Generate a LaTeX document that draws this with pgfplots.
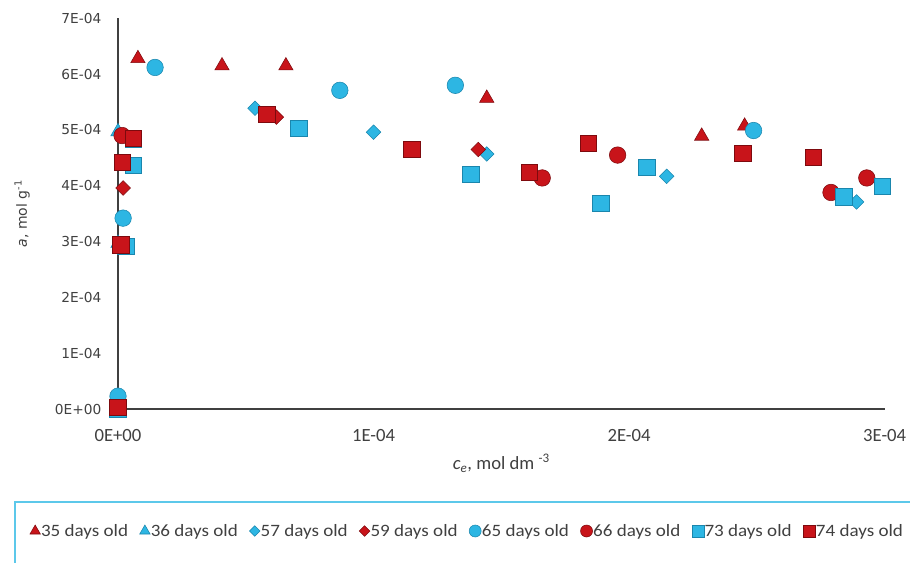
\documentclass[border=0pt]{standalone}
\usepackage{pgfplots}
\pgfplotsset{compat=1.18}
\usepackage{fontspec}
\setmainfont{Carlito}
\newfontfamily\djv{DejaVu Sans}
\newfontfamily\legfont[FakeStretch=1.1]{Carlito}

\definecolor{myred}{HTML}{C8141A}
\definecolor{myreddark}{HTML}{7E0A0E}
\definecolor{myblue}{HTML}{2DB6E3}
\definecolor{mybluedark}{HTML}{1A86AD}
\definecolor{axisgray}{HTML}{404040}
\definecolor{boxblue}{HTML}{5CC8EA}

% diamond with equal diagonals
\pgfdeclareplotmark{sqdiamond*}{%
  \pgfpathmoveto{\pgfqpoint{0pt}{0.88\pgfplotmarksize}}%
  \pgfpathlineto{\pgfqpoint{0.88\pgfplotmarksize}{0pt}}%
  \pgfpathlineto{\pgfqpoint{0pt}{-0.88\pgfplotmarksize}}%
  \pgfpathlineto{\pgfqpoint{-0.88\pgfplotmarksize}{0pt}}%
  \pgfpathclose
  \pgfusepathqfillstroke}

\pgfplotsset{
  redmk/.style={only marks, mark options={fill=myred, draw=myreddark, line width=0.4pt}},
  bluemk/.style={only marks, mark options={fill=myblue, draw=mybluedark, line width=0.4pt}},
}

\begin{document}
\begin{tikzpicture}
\begin{axis}[
  at={(0,0)}, anchor=south west,
  scale only axis, width=575pt, height=293pt,
  xmin=0, xmax=3e-4, ymin=0, ymax=7e-4,
  clip=false,
  axis x line=bottom, axis y line=left,
  axis line style={-, axisgray, line width=0.8pt},
  major tick length=0pt,
  scaled ticks=false,
  xtick={0,1e-4,2e-4,3e-4},
  xticklabels={0E+00,1E-04,2E-04,3E-04},
  ytick={0,1e-4,2e-4,3e-4,4e-4,5e-4,6e-4,7e-4},
  yticklabels={0E+00,1E-04,2E-04,3E-04,4E-04,5E-04,6E-04,7E-04},
  xticklabel style={font=\fontsize{14}{16}\selectfont, text=axisgray, yshift=-12pt},
  yticklabel style={font=\djv\fontsize{10.3}{12}\selectfont, text=axisgray, xshift=-9pt},
  xlabel={\textit{c}\textsubscript{\textit{e}}, mol dm \textsuperscript{-3}},
  ylabel={\textit{a}, mol g\textsuperscript{-1}},
  xlabel style={font=\fontsize{14}{16}\selectfont, text=axisgray, at={(axis description cs:0.5,-0.14)}, anchor=center},
  ylabel style={font=\djv\fontsize{10.5}{12}\selectfont, text=axisgray, at={(axis description cs:-0.125,0.5)}, anchor=center},
  mark size=6.2pt,
  legend columns=8,
  legend style={draw=none, fill=none, inner sep=0pt, outer sep=0pt,
    at={(axis description cs:-0.1148,-0.3123)}, anchor=west,
    font=\legfont\fontsize{13}{15}\selectfont,
    nodes={inner sep=0.5pt, text=axisgray},
    /tikz/every even column/.append style={column sep=7.5pt}},
  legend image code/.code={\draw[#1, mark size=4.5pt] plot coordinates {(0pt,0pt)};},
]
% 35 days old
\addplot[redmk, mark=triangle*] coordinates {
  (0,0) (0.078e-4,6.28e-4) (0.407e-4,6.15e-4) (0.657e-4,6.15e-4)
  (1.443e-4,5.57e-4) (2.284e-4,4.89e-4) (2.452e-4,5.07e-4)};
\addlegendentry{\makebox[66pt][l]{35 days old}}
% 36 days old
\addplot[bluemk, mark=triangle*] coordinates {
  (0,0.05e-4) (0,2.97e-4) (0,4.97e-4)};
\addlegendentry{\makebox[66pt][l]{36 days old}}
% 57 days old
\addplot[bluemk, mark=sqdiamond*] coordinates {
  (0,0) (0.536e-4,5.39e-4) (1.0e-4,4.96e-4) (1.443e-4,4.57e-4)
  (2.147e-4,4.17e-4) (2.89e-4,3.71e-4)};
\addlegendentry{\makebox[66pt][l]{57 days old}}
% 59 days old
\addplot[redmk, mark=sqdiamond*] coordinates {
  (0,0) (0.02e-4,3.96e-4) (0.62e-4,5.23e-4) (1.41e-4,4.65e-4)};
\addlegendentry{\makebox[66pt][l]{59 days old}}
% 65 days old
\addplot[bluemk, mark=*] coordinates {
  (0,0.23e-4) (0.02e-4,3.42e-4) (0.145e-4,6.12e-4) (0.868e-4,5.71e-4)
  (1.32e-4,5.80e-4) (2.487e-4,4.99e-4)};
\addlegendentry{\makebox[66pt][l]{65 days old}}
% 66 days old
\addplot[redmk, mark=*] coordinates {
  (0,0) (0.016e-4,4.90e-4) (1.66e-4,4.14e-4) (1.955e-4,4.55e-4)
  (2.79e-4,3.88e-4) (2.93e-4,4.14e-4)};
\addlegendentry{\makebox[66pt][l]{66 days old}}
% 73 days old
\addplot[bluemk, mark=square*] coordinates {
  (0,0) (0.03e-4,2.92e-4) (0.06e-4,4.37e-4) (0.06e-4,4.83e-4)
  (0.708e-4,5.03e-4) (1.38e-4,4.21e-4) (1.89e-4,3.69e-4) (2.07e-4,4.33e-4)
  (2.84e-4,3.80e-4) (2.99e-4,3.99e-4)};
\addlegendentry{\makebox[66pt][l]{73 days old}}
% 74 days old
\addplot[redmk, mark=square*] coordinates {
  (0,0.03e-4) (0.01e-4,2.94e-4) (0.016e-4,4.42e-4) (0.059e-4,4.85e-4)
  (0.583e-4,5.28e-4) (1.15e-4,4.65e-4) (1.61e-4,4.24e-4) (1.84e-4,4.76e-4)
  (2.444e-4,4.58e-4) (2.72e-4,4.51e-4)};
\addlegendentry{\makebox[66pt][l]{74 days old}}
\end{axis}
% legend frame
\draw[boxblue, line width=0.8pt] (-77.25pt,-69.75pt) rectangle (640pt,-140pt);
\pgfresetboundingbox
\path[use as bounding box] (-88.5pt,-114.75pt) rectangle (594pt,306.75pt);
\end{tikzpicture}
\end{document}
